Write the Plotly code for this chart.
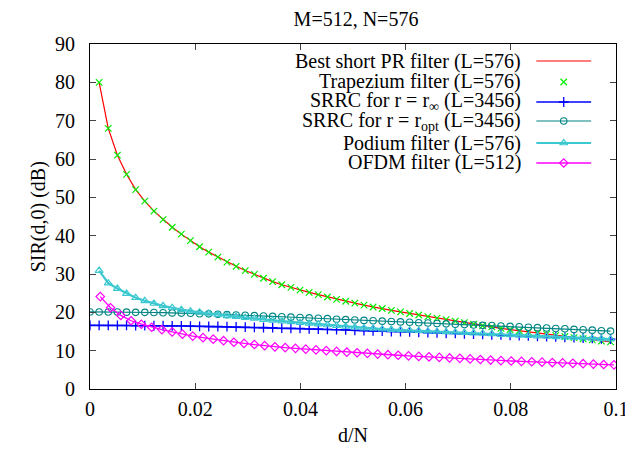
import plotly.graph_objects as go

N = 576
M = 512

# d index for filters with N-spacing
d_pr = list(range(1, 58))
d_srrc = list(range(0, 58))
d_ofdm = list(range(1, 52))

best_pr = [80.0, 68.0, 61.0, 56.0, 52.0, 49.0, 46.4, 44.2, 42.2, 40.4,
           38.7, 37.1, 35.7, 34.4, 33.1, 32.0, 30.9, 29.9, 28.9, 28.0,
           27.2, 26.5, 25.8, 25.2, 24.6, 24.0, 23.4, 22.9, 22.4, 21.9,
           21.4, 21.0, 20.5, 20.1, 19.7, 19.3, 18.9, 18.5, 18.1, 17.7,
           17.3, 16.9, 16.5, 16.2, 15.8, 15.5, 15.2, 14.9, 14.6, 14.3,
           14.0, 13.7, 13.4, 13.1, 12.8, 12.5, 12.3]

trapezium = [80.0, 68.0, 61.0, 56.0, 52.0, 49.0, 46.4, 44.2, 42.2, 40.4,
             38.7, 37.1, 35.7, 34.4, 33.1, 32.0, 30.9, 29.9, 28.9, 28.0,
             27.2, 26.5, 25.8, 25.2, 24.6, 24.0, 23.4, 22.9, 22.4, 21.9,
             21.4, 21.0, 20.5, 20.1, 19.7, 19.3, 18.9, 18.5, 18.1, 17.7,
             17.3, 16.9, 16.5, 16.2, 15.8, 15.5, 15.2, 14.9, 14.6, 14.3,
             14.0, 13.7, 13.4, 13.1, 12.8, 12.5, 12.3]

srrc_inf = [16.6, 16.6, 16.6, 16.6, 16.6, 16.55, 16.55, 16.5, 16.5, 16.45,
            16.45, 16.4, 16.35, 16.3, 16.3, 16.25, 16.2, 16.15, 16.1, 16.05,
            16.0, 15.9, 15.85, 15.8, 15.7, 15.65, 15.55, 15.5, 15.4, 15.3,
            15.25, 15.2, 15.1, 15.0, 14.95, 14.9, 14.8, 14.7, 14.65, 14.55,
            14.5, 14.4, 14.3, 14.25, 14.15, 14.1, 14.0, 13.9, 13.85, 13.75,
            13.65, 13.6, 13.5, 13.4, 13.3, 13.2, 13.1, 13.0]

srrc_opt = [20.1, 20.1, 20.1, 20.1, 20.05, 20.0, 20.0, 19.95, 19.9, 19.85,
            19.8, 19.75, 19.65, 19.6, 19.5, 19.4, 19.3, 19.25, 19.15, 19.05,
            18.95, 18.85, 18.75, 18.65, 18.55, 18.45, 18.35, 18.2, 18.1, 18.0,
            17.9, 17.8, 17.7, 17.6, 17.5, 17.4, 17.3, 17.2, 17.1, 17.0,
            16.9, 16.8, 16.7, 16.6, 16.55, 16.45, 16.35, 16.25, 16.1, 16.0,
            15.9, 15.8, 15.7, 15.55, 15.45, 15.35, 15.2, 15.1]

podium = [30.9, 27.6, 26.2, 24.9, 23.8, 23.0, 22.3, 21.7, 21.2, 20.7,
          20.3, 20.0, 19.7, 19.4, 19.1, 18.9, 18.6, 18.4, 18.1, 17.9,
          17.7, 17.5, 17.3, 17.1, 16.9, 16.7, 16.5, 16.3, 16.1, 15.9,
          15.8, 15.6, 15.5, 15.4, 15.3, 15.2, 15.1, 15.0, 14.9, 14.8,
          14.7, 14.6, 14.5, 14.4, 14.2, 14.1, 14.0, 13.9, 13.8, 13.7,
          13.6, 13.5, 13.4, 13.3, 13.2, 13.1, 13.0]

ofdm = [24.1, 21.2, 19.2, 17.8, 16.9, 16.1, 15.5, 14.9, 14.3, 13.8,
        13.4, 13.0, 12.6, 12.2, 11.9, 11.6, 11.3, 11.0, 10.8, 10.6,
        10.4, 10.2, 10.0, 9.8, 9.6, 9.45, 9.3, 9.1, 8.95, 8.8,
        8.65, 8.5, 8.4, 8.25, 8.1, 8.0, 7.85, 7.7, 7.55, 7.4,
        7.3, 7.2, 7.1, 7.0, 6.9, 6.8, 6.7, 6.6, 6.5, 6.4, 6.3]

x_ticks = [0, 0.02, 0.04, 0.06, 0.08, 0.1]
x_labels = ["0", "0.02", "0.04", "0.06", "0.08", "0.1"]
y_ticks = [0, 10, 20, 30, 40, 50, 60, 70, 80, 90]

legend_names = [
    "Best short PR filter (L=576)",
    "Trapezium filter (L=576)",
    "SRRC for r = r<sub>∞</sub> (L=3456)",
    "SRRC for r = r<sub>opt</sub> (L=3456)",
    "Podium filter (L=576)",
    "OFDM filter (L=512)",
]

x_pr = [d / N for d in d_pr]
x_srrc = [d / N for d in d_srrc]
x_ofdm = [d / M for d in d_ofdm]

FONT = "Times New Roman, Liberation Serif, serif"
RED = "#ff0000"
GREEN = "#00ee00"
BLUE = "#0000ff"
TEAL = "#008484"
CYAN = "#3cc8d0"
MAGENTA = "#ff00ff"

styles = [
    dict(mode="lines", line=dict(color=RED, width=1.2)),
    dict(mode="markers", marker=dict(symbol="x-thin-open", size=6.5, line=dict(color=GREEN, width=1.2), color=GREEN)),
    dict(mode="lines+markers", line=dict(color=BLUE, width=1.6), marker=dict(symbol="cross-thin-open", size=7, line=dict(color=BLUE, width=1.3), color=BLUE)),
    dict(mode="lines+markers", line=dict(color=TEAL, width=1.2), marker=dict(symbol="circle-open", size=6.5, line=dict(color=TEAL, width=1.1), color=TEAL)),
    dict(mode="lines+markers", line=dict(color=CYAN, width=2.2), marker=dict(symbol="triangle-up-open", size=7, line=dict(color=CYAN, width=1.2), color=CYAN)),
    dict(mode="lines+markers", line=dict(color=MAGENTA, width=1.3), marker=dict(symbol="diamond-open", size=6.5, line=dict(color=MAGENTA, width=1.2), color=MAGENTA)),
]

series = [
    (x_pr, best_pr),
    (x_pr, trapezium),
    (x_srrc, srrc_inf),
    (x_srrc, srrc_opt),
    (x_pr, podium),
    (x_ofdm, ofdm),
]

fig = go.Figure()
for (xs, ys), st, nm in zip(series, styles, legend_names):
    fig.add_trace(go.Scatter(x=xs, y=ys, name=nm, showlegend=False, **st))

# custom gnuplot-style legend (text right-aligned, sample on the right)
leg_rows = [0.9507, 0.8899, 0.8319, 0.7768, 0.7130, 0.6551]
leg_text_x = 0.8239
leg_x0, leg_x1, leg_xm = 0.8485, 0.9527, 0.9006
for yy, st, nm in zip(leg_rows, styles, legend_names):
    if "lines" in st["mode"]:
        fig.add_trace(go.Scatter(x=[leg_x0, leg_x1], y=[yy, yy], xaxis="x2", yaxis="y2",
                                 mode="lines", line=st["line"], showlegend=False, hoverinfo="skip"))
    if "markers" in st["mode"]:
        fig.add_trace(go.Scatter(x=[leg_xm], y=[yy], xaxis="x2", yaxis="y2",
                                 mode="markers", marker=st["marker"], showlegend=False, hoverinfo="skip"))
    fig.add_annotation(x=leg_text_x, y=yy, xref="paper", yref="paper", text=nm,
                       showarrow=False, xanchor="right", yanchor="middle",
                       font=dict(family=FONT, size=20, color="black"))

# page body has a default 8px margin, so margins are shifted by 8px
fig.update_layout(
    width=633, height=451,
    margin=dict(l=82, r=23, t=36, b=70),
    paper_bgcolor="white", plot_bgcolor="white",
    font=dict(family=FONT, size=20, color="black"),
    showlegend=False,
    title=dict(text="M=512, N=576", x=0.5498, xanchor="center", y=0.9756, yanchor="middle",
               font=dict(family=FONT, size=20, color="black")),
    xaxis=dict(range=[0, 0.1], tickvals=x_ticks, ticktext=x_labels, ticks="inside", ticklen=6,
               showline=True, linecolor="black", linewidth=1.2, mirror="allticks",
               showgrid=False, zeroline=False, ticklabelstandoff=2,
               tickfont=dict(family=FONT, size=20)),
    yaxis=dict(range=[0, 90], tickvals=y_ticks, ticks="inside", ticklen=6,
               showline=True, linecolor="black", linewidth=1.2, mirror="allticks",
               showgrid=False, zeroline=False, ticklabelstandoff=10,
               tickfont=dict(family=FONT, size=20)),
    xaxis2=dict(range=[0, 1], overlaying="x", visible=False),
    yaxis2=dict(range=[0, 1], overlaying="y", visible=False),
)

fig.add_annotation(x=-0.123, y=0.5, xref="paper", yref="paper", text="SIR(d,0) (dB)",
                   textangle=-90, showarrow=False, font=dict(family=FONT, size=20))
fig.add_annotation(x=0.5, y=-0.133, xref="paper", yref="paper", text="d/N",
                   showarrow=False, yanchor="middle", font=dict(family=FONT, size=20))

fig.write_html("out.html")
